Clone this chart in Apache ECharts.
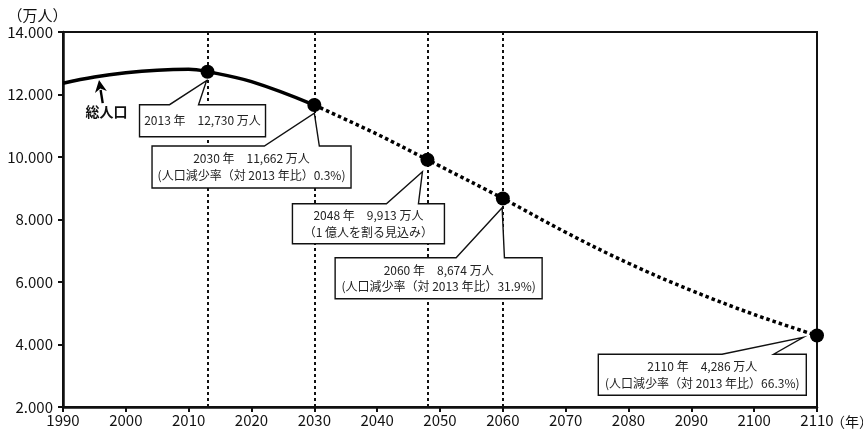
<!DOCTYPE html>
<html>
<head>
<meta charset="utf-8">
<script src="https://cdn.jsdelivr.net/npm/echarts@6/dist/echarts.min.js"></script>
<style>
  html, body { margin: 0; padding: 0; background: #fff; }
  #chart { width: 863px; height: 430px; }
</style>
</head>
<body>
<div id="chart"></div>
<script>
// 総人口: 実績（〜2030 実線）と将来推計（2030〜 点線）
const yearsActual = [1990, 1995, 2000, 2005, 2010, 2013, 2020, 2030];
const popActual   = [12361, 12557, 12693, 12777, 12806, 12730, 12410, 11662];

const yearsProj = [2030, 2040, 2048, 2050, 2060, 2070, 2080, 2090, 2100, 2110];
const popProj   = [11662, 10728, 9913, 9708, 8674, 7590, 6600, 5730, 4960, 4286];

// 注記付きの節目の年
const calloutYears  = [2013, 2030, 2048, 2060, 2110];
const calloutValues = [12730, 11662, 9913, 8674, 4286];
const calloutNotes  = [
  null,
  '(人口減少率（対 2013 年比）0.3%)',
  '（1 億人を割る見込み）',
  '(人口減少率（対 2013 年比）31.9%)',
  '(人口減少率（対 2013 年比）66.3%)'
];

// 縦の補助線を引く年
const guideYears = [2013, 2030, 2048, 2060];

// 軸の目盛り
const xTicks = { min: 1990, max: 2110, step: 10 };
const yTicks = { min: 2000, max: 14000, step: 2000 };

const seriesName = '総人口';
const xName = '（年）';
const yName = '（万人）';

const FONT = '"Noto Sans CJK JP", "Noto Sans", sans-serif';
const INK = '#111';

// 吹き出しの配置（マーカー中心からの相対位置、px）
const calloutLayout = [
  { dx: -68,    dy: 33,   w: 126, h: 32, b1: 30,    b2: 59,    tx: -1,    ty: 9 },
  { dx: -162.3, dy: 41,   w: 199, h: 42, b1: 112.3, b2: 167.3, tx: 0,     ty: 8 },
  { dx: -135,   dy: 44,   w: 152, h: 40, b1: 94,    b2: 126,   tx: -5,    ty: 12 },
  { dx: -167.7, dy: 59.3, w: 207, h: 41, b1: 121,   b2: 169.3, tx: -0.7,  ty: 9.3 },
  { dx: -218.7, dy: 18.7, w: 208, h: 41, b1: 123.7, b2: 175.3, tx: -13.7, ty: 1.7 }
];

const zip = (xs, ys) => xs.map((x, i) => [x, ys[i]]);

const chart = echarts.init(document.getElementById('chart'), null, { renderer: 'canvas' });

chart.setOption({
  animation: false,
  textStyle: { fontFamily: FONT },
  grid: {
    left: 63, right: 46, top: 32, bottom: 23,
    show: true, borderColor: INK, borderWidth: 2, backgroundColor: 'transparent'
  },
  xAxis: {
    type: 'value',
    min: xTicks.min, max: xTicks.max, interval: xTicks.step,
    axisLine: { lineStyle: { color: INK, width: 2.5 } },
    axisTick: { length: 5, lineStyle: { color: INK, width: 2 } },
    axisLabel: { fontSize: 15, color: INK, margin: 6, fontFamily: FONT, formatter: v => String(v) },
    splitLine: { show: false }
  },
  yAxis: {
    type: 'value',
    min: yTicks.min, max: yTicks.max, interval: yTicks.step,
    axisLine: { show: true, lineStyle: { color: INK, width: 2.5 } },
    axisTick: { show: true, length: 5, lineStyle: { color: INK, width: 2 } },
    axisLabel: {
      fontSize: 15, color: INK, margin: 10, fontFamily: FONT,
      formatter: v => (v / 1000).toFixed(3)
    },
    splitLine: { show: false }
  },
  series: [
    {
      name: seriesName,
      type: 'line',
      data: zip(yearsActual, popActual),
      smooth: 0.4,
      symbol: 'none',
      lineStyle: { color: '#000', width: 3.5 },
      z: 3,
      markLine: {
        silent: true,
        symbol: ['none', 'none'],
        label: { show: false },
        lineStyle: { color: INK, width: 2, type: [3, 3] },
        data: guideYears.map(y => ({ xAxis: y }))
      }
    },
    {
      name: seriesName,
      type: 'line',
      data: zip(yearsProj, popProj),
      smooth: 0.4,
      symbol: 'none',
      lineStyle: { color: '#000', width: 3.5, type: [3.5, 3] },
      z: 3
    },
    {
      type: 'scatter',
      data: zip(calloutYears, calloutValues),
      symbolSize: 14,
      itemStyle: { color: '#000', opacity: 1 },
      z: 5
    }
  ]
});

// 吹き出し・矢印・軸名
const elements = [];
const toPx = (x, y) => chart.convertToPixel({ gridIndex: 0 }, [x, y]);

calloutYears.forEach((year, i) => {
  const [px, py] = toPx(year, calloutValues[i]);
  const L = calloutLayout[i];
  const x0 = px + L.dx, y0 = py + L.dy, x1 = x0 + L.w, y1 = y0 + L.h;
  const tip = [px + L.tx, py + L.ty];
  elements.push({
    type: 'polygon', z: 20, silent: true,
    shape: { points: [[x0, y0], [x0 + L.b1, y0], tip, [x0 + L.b2, y0], [x1, y0], [x1, y1], [x0, y1]] },
    style: { fill: '#fff', stroke: INK, lineWidth: 1.4, lineJoin: 'miter' }
  });
  const lines = [year + ' 年　' + calloutValues[i].toLocaleString('en-US') + ' 万人'];
  if (calloutNotes[i]) lines.push(calloutNotes[i]);
  const cx = (x0 + x1) / 2, cy = (y0 + y1) / 2, lh = 16.5;
  lines.forEach((t, k) => {
    elements.push({
      type: 'text', z: 21, silent: true,
      x: cx, y: cy + (k - (lines.length - 1) / 2) * lh,
      style: { text: t, font: '12px ' + FONT, fill: '#222', align: 'center', verticalAlign: 'middle' }
    });
  });
});

// 「総人口」ラベルと矢印
(function () {
  const [ax, ay] = toPx(yearsActual[1], popActual[1]);
  const tip = [ax + 4.6, ay + 3];
  const tail = [ax + 8.3, ay + 26];
  const vx = tip[0] - tail[0], vy = tip[1] - tail[1];
  const len = Math.hypot(vx, vy), ux = vx / len, uy = vy / len;
  const headLen = 12, headHalf = 6;
  const base = [tip[0] - ux * headLen, tip[1] - uy * headLen];
  elements.push({
    type: 'line', z: 20, silent: true,
    shape: { x1: tail[0], y1: tail[1], x2: base[0] + ux * 2, y2: base[1] + uy * 2 },
    style: { stroke: '#000', lineWidth: 2.4 }
  });
  elements.push({
    type: 'polygon', z: 20, silent: true,
    shape: { points: [
      tip,
      [base[0] - uy * headHalf, base[1] + ux * headHalf],
      [base[0] + ux * 3.5, base[1] + uy * 3.5],
      [base[0] + uy * headHalf, base[1] - ux * headHalf]
    ] },
    style: { fill: '#000' }
  });
  elements.push({
    type: 'text', z: 21, silent: true,
    x: ax + 12, y: ay + 34.5,
    style: { text: seriesName, font: 'bold 14px ' + FONT, fill: '#111', align: 'center', verticalAlign: 'middle' }
  });
})();

// 軸名
(function () {
  const [gx0, gyTop] = toPx(xTicks.min, yTicks.max);
  const [gx1, gyBot] = toPx(xTicks.max, yTicks.min);
  elements.push({
    type: 'text', z: 21, silent: true,
    x: gx0 - 25.5, y: gyTop - 17,
    style: { text: yName, font: '15px ' + FONT, fill: INK, align: 'center', verticalAlign: 'middle' }
  });
  elements.push({
    type: 'text', z: 21, silent: true,
    x: gx1 + 35, y: gyBot + 14.5,
    style: { text: xName, font: '14px ' + FONT, fill: INK, align: 'center', verticalAlign: 'middle' }
  });
})();

chart.setOption({ graphic: { elements: elements } });
</script>
</body>
</html>
